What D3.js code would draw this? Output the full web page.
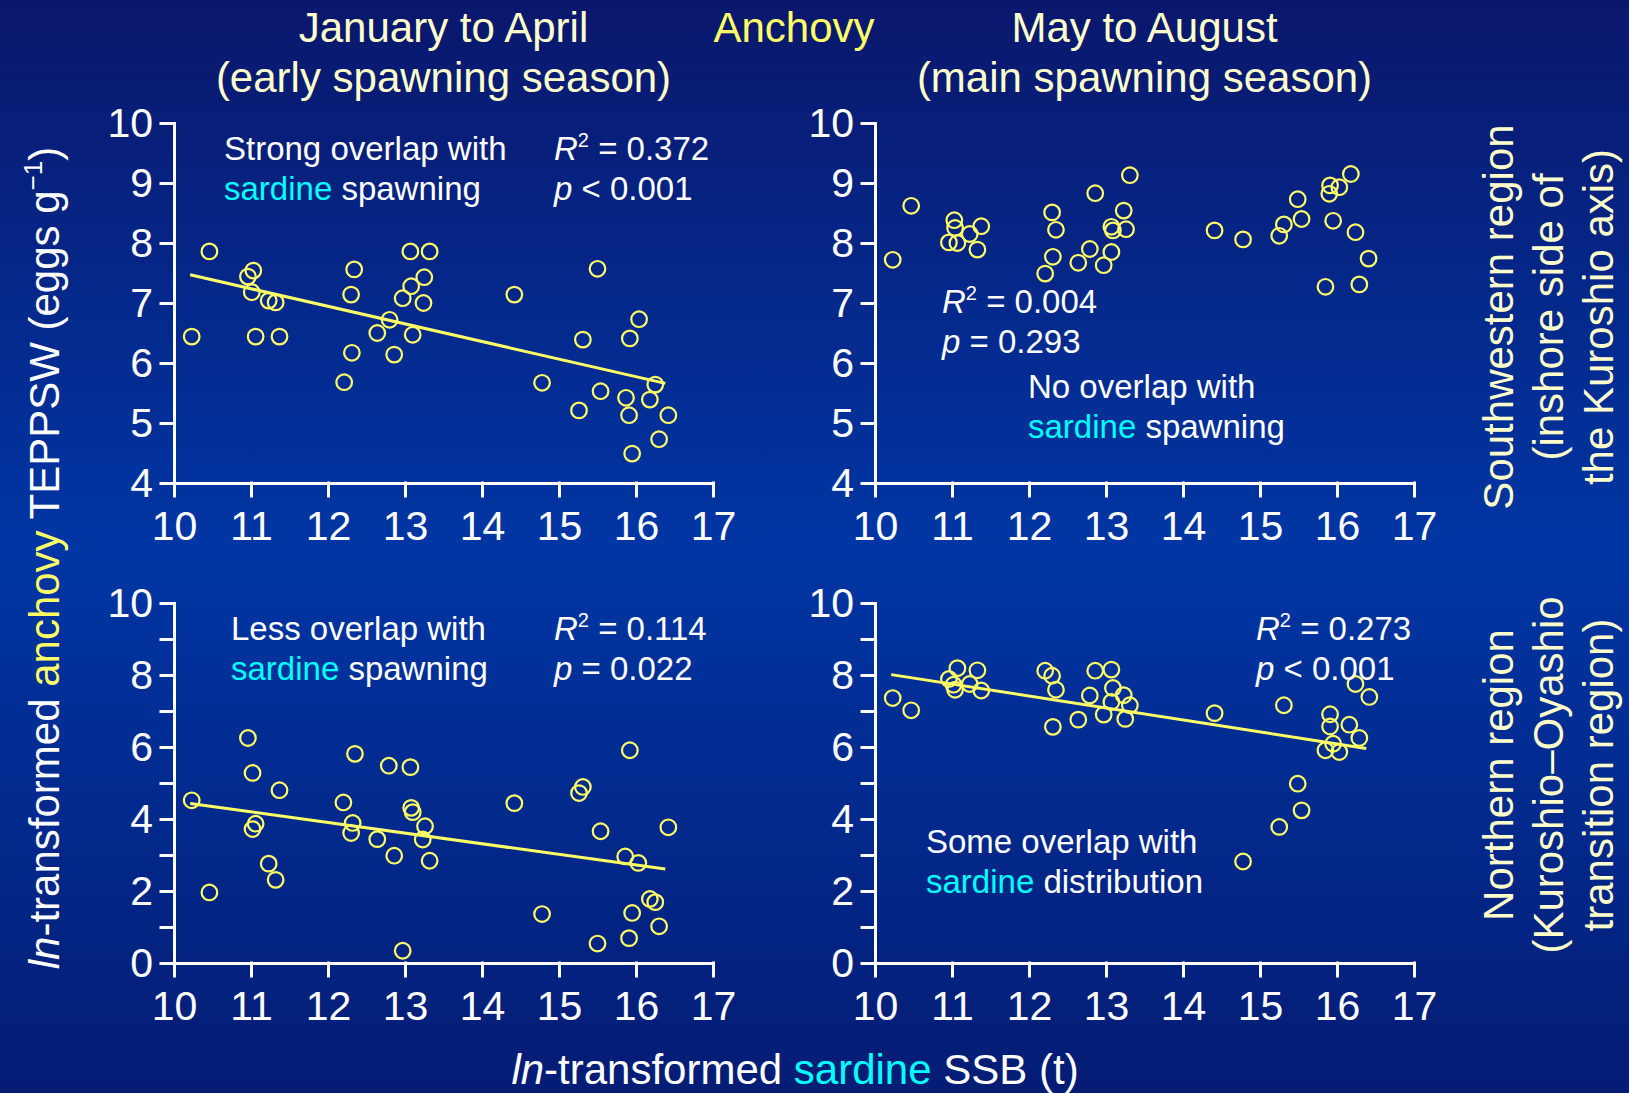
<!DOCTYPE html>
<html>
<head>
<meta charset="utf-8">
<script src="https://cdn.jsdelivr.net/npm/d3@7"></script>
<style>
  body { margin: 0; background: #002080; }
  svg { display: block; }
</style>
</head>
<body>
<div id="chart"></div>
<script>
// [ln sardine SSB, ln anchovy TEPPSW]
const janAprSouthwest = [
  [10.23,6.44],[10.46,7.86],[10.96,7.44],[11.03,7.54],[11.01,7.18],[11.06,6.44],[11.23,7.04],[11.32,7.01],
  [11.37,6.44],[12.21,5.68],[12.30,7.14],[12.34,7.56],[12.31,6.17],[12.64,6.50],[12.80,6.72],[12.86,6.14],
  [12.97,7.08],[13.07,7.86],[13.08,7.28],[13.10,6.47],[13.24,7.00],[13.25,7.43],[13.32,7.86],[14.42,7.14],
  [14.78,5.67],[15.26,5.21],[15.31,6.39],[15.50,7.57],[15.54,5.53],[15.87,5.42],[15.92,6.41],[15.91,5.13],
  [15.95,4.49],[16.04,6.73],[16.18,5.39],[16.25,5.64],[16.30,4.73],[16.42,5.13]
];
const mayAugSouthwest = [
  [10.23,7.72],[10.47,8.62],[10.96,8.01],[11.03,8.38],[11.04,8.25],[11.07,8.00],[11.23,8.15],[11.33,7.89],
  [11.38,8.28],[12.21,7.49],[12.30,8.51],[12.31,7.77],[12.35,8.22],[12.64,7.67],[12.79,7.90],[12.86,8.83],
  [12.97,7.63],[13.07,8.27],[13.09,8.21],[13.07,7.85],[13.26,8.23],[13.23,8.54],[13.31,9.13],[14.41,8.21],
  [14.78,8.06],[15.25,8.12],[15.31,8.31],[15.49,8.73],[15.54,8.40],[15.85,7.27],[15.90,8.82],[15.91,8.96],
  [15.95,8.37],[16.03,8.93],[16.18,9.15],[16.24,8.18],[16.29,7.31],[16.41,7.74]
];
const janAprNorth = [
  [10.23,4.52],[10.46,1.96],[10.96,6.25],[11.02,5.28],[11.06,3.87],[11.02,3.72],[11.23,2.76],[11.32,2.31],
  [11.37,4.80],[12.20,4.46],[12.35,5.81],[12.32,3.89],[12.30,3.61],[12.64,3.44],[12.79,5.48],[12.86,2.98],
  [12.97,0.34],[13.07,5.44],[13.08,4.31],[13.10,4.19],[13.23,3.43],[13.26,3.80],[13.32,2.84],[14.42,4.44],
  [14.78,1.36],[15.26,4.72],[15.31,4.89],[15.50,0.54],[15.54,3.66],[15.86,2.96],[15.92,5.91],[15.95,1.39],
  [15.91,0.69],[16.03,2.78],[16.18,1.78],[16.25,1.69],[16.30,1.02],[16.42,3.77]
];
const mayAugNorth = [
  [10.23,7.36],[10.47,7.02],[10.96,7.89],[11.07,8.19],[11.02,7.73],[11.04,7.59],[11.23,7.75],[11.33,8.13],
  [11.38,7.57],[12.21,8.12],[12.30,7.98],[12.35,7.59],[12.31,6.56],[12.64,6.76],[12.79,7.43],[12.86,8.12],
  [12.97,6.90],[13.07,8.15],[13.09,7.64],[13.07,7.25],[13.23,7.44],[13.31,7.16],[13.25,6.78],[14.41,6.94],
  [14.78,2.82],[15.25,3.78],[15.31,7.16],[15.49,4.98],[15.54,4.24],[15.85,5.91],[15.91,6.91],[15.91,6.57],
  [15.95,6.09],[16.03,5.86],[16.16,6.62],[16.24,7.75],[16.29,6.25],[16.42,7.39]
];

// regression lines (end points as drawn)
const fitJanAprSouthwest = [[10.21, 7.47], [16.38, 5.66]];
const fitJanAprNorth = [[10.21, 4.43], [16.38, 2.61]];
const fitMayAugNorth = [[10.21, 8.01], [16.38, 5.96]];

const xTicks = [10, 11, 12, 13, 14, 15, 16, 17];
const yTicksTop = [4, 5, 6, 7, 8, 9, 10];
const yTicksBottom = [0, 1, 2, 3, 4, 5, 6, 7, 8, 9, 10];

const statsText = [
  { r2: "0.372", p: "< 0.001" },
  { r2: "0.004", p: "= 0.293" },
  { r2: "0.114", p: "= 0.022" },
  { r2: "0.273", p: "< 0.001" }
];
const noteText = [
  ["Strong overlap with", "spawning"],
  ["No overlap with", "spawning"],
  ["Less overlap with", "spawning"],
  ["Some overlap with", "distribution"]
];

const W = 1629, H = 1093;
const FONT = "'Liberation Sans', Arial, Helvetica, sans-serif";
const YELLOW = "#ffff66", CREAM = "#ffffcc", CYAN = "#00ffff";

const svg = d3.select("#chart").append("svg")
  .attr("width", W).attr("height", H)
  .style("font-family", FONT);

const grad = svg.append("defs").append("linearGradient")
  .attr("id", "bg").attr("x1", 0).attr("y1", 0).attr("x2", 0).attr("y2", 1);
grad.append("stop").attr("offset", "0%").attr("stop-color", "#0a176c");
grad.append("stop").attr("offset", "50%").attr("stop-color", "#0036a4");
grad.append("stop").attr("offset", "100%").attr("stop-color", "#041c74");
svg.append("rect").attr("width", W).attr("height", H).attr("fill", "url(#bg)");

const panelW = 539, panelH = 360;
const panels = [
  { left: 174, top: 123, data: janAprSouthwest, fit: fitJanAprSouthwest, yDomain: [4, 10], yTicks: yTicksTop,
    stats: statsText[0], statsPos: [380, 37], note: noteText[0], notePos: [50, 37] },
  { left: 875, top: 123, data: mayAugSouthwest, fit: null, yDomain: [4, 10], yTicks: yTicksTop,
    stats: statsText[1], statsPos: [67, 190], note: noteText[1], notePos: [153, 275] },
  { left: 174, top: 603, data: janAprNorth, fit: fitJanAprNorth, yDomain: [0, 10], yTicks: yTicksBottom,
    stats: statsText[2], statsPos: [380, 37], note: noteText[2], notePos: [57, 37] },
  { left: 875, top: 603, data: mayAugNorth, fit: fitMayAugNorth, yDomain: [0, 10], yTicks: yTicksBottom,
    stats: statsText[3], statsPos: [381, 37], note: noteText[3], notePos: [51, 250] }
];

function drawPanel(p) {
  const x = d3.scaleLinear().domain([10, 17]).range([p.left, p.left + panelW]);
  const y = d3.scaleLinear().domain(p.yDomain).range([p.top + panelH, p.top]);
  const g = svg.append("g");

  const xAxis = g.append("g")
    .attr("transform", `translate(0,${p.top + panelH})`)
    .call(d3.axisBottom(x).tickValues(xTicks).tickFormat(d3.format("d"))
      .tickSize(13).tickSizeOuter(0).tickPadding(15));
  const yAxis = g.append("g")
    .attr("transform", `translate(${p.left},0)`)
    .call(d3.axisLeft(y).tickValues(p.yTicks).tickSize(13).tickSizeOuter(0).tickPadding(8)
      .tickFormat(d => (p.yDomain[0] === 0 && d % 2) ? "" : d));

  [xAxis, yAxis].forEach(a => {
    a.attr("font-family", FONT).attr("font-size", 41);
    a.selectAll(".domain, .tick line").attr("stroke", "#fff").attr("stroke-width", 3).attr("stroke-linecap", "square");
    a.selectAll("text").attr("fill", "#fff");
  });

  if (p.fit) {
    g.append("path")
      .datum(p.fit)
      .attr("fill", "none")
      .attr("stroke", YELLOW)
      .attr("stroke-width", 3)
      .attr("d", d3.line().x(d => x(d[0])).y(d => y(d[1])));
  }

  g.append("g")
    .selectAll("circle")
    .data(p.data)
    .join("circle")
    .attr("cx", d => x(d[0]))
    .attr("cy", d => y(d[1]))
    .attr("r", 7.8)
    .attr("fill", "none")
    .attr("stroke", YELLOW)
    .attr("stroke-width", 2.2);

  // R2 and p
  const sx = p.left + p.statsPos[0], sy = p.top + p.statsPos[1];
  const t1 = g.append("text").attr("x", sx).attr("y", sy).attr("fill", "#fff").attr("font-size", 33);
  t1.append("tspan").attr("font-style", "italic").text("R");
  t1.append("tspan").attr("font-size", 20).attr("dy", -13).text("2");
  t1.append("tspan").attr("dy", 13).text(" = " + p.stats.r2);
  const t2 = g.append("text").attr("x", sx).attr("y", sy + 40).attr("fill", "#fff").attr("font-size", 33);
  t2.append("tspan").attr("font-style", "italic").text("p");
  t2.append("tspan").text(" " + p.stats.p);

  // overlap note
  const nx = p.left + p.notePos[0], ny = p.top + p.notePos[1];
  g.append("text").attr("x", nx).attr("y", ny).attr("fill", "#fff").attr("font-size", 33).text(p.note[0]);
  const n2 = g.append("text").attr("x", nx).attr("y", ny + 40).attr("fill", "#fff").attr("font-size", 33);
  n2.append("tspan").attr("fill", CYAN).text("sardine");
  n2.append("tspan").text(" " + p.note[1]);
}

panels.forEach(drawPanel);

// column titles
const titles = svg.append("g").attr("font-size", 42).attr("text-anchor", "middle");
[["January to April", "(early spawning season)", 174 + panelW / 2],
 ["May to August", "(main spawning season)", 875 + panelW / 2]].forEach(([a, b, cx]) => {
  titles.append("text").attr("x", cx).attr("y", 42).attr("fill", CREAM).text(a);
  titles.append("text").attr("x", cx).attr("y", 92).attr("fill", CREAM).text(b);
});
titles.append("text").attr("x", 794).attr("y", 42).attr("fill", YELLOW).text("Anchovy");

// row titles (rotated)
const rows = svg.append("g").attr("font-size", 42).attr("text-anchor", "middle").attr("fill", CREAM);
[[["Southwestern region", "(inshore side of", "the Kuroshio axis)"], 317],
 [["Northern region", "(Kuroshio\u2013Oyashio", "transition region)"], 775]].forEach(([lines, cy]) => {
  lines.forEach((s, i) => {
    rows.append("text")
      .attr("transform", `translate(${1513 + i * 50},${cy}) rotate(-90)`)
      .text(s);
  });
});

// y axis title
const yt = svg.append("text")
  .attr("transform", "translate(59,558) rotate(-90)")
  .attr("text-anchor", "middle")
  .attr("font-size", 42)
  .attr("fill", "#fff");
yt.append("tspan").attr("font-style", "italic").text("ln");
yt.append("tspan").text("-transformed ");
yt.append("tspan").attr("fill", YELLOW).text("anchovy");
yt.append("tspan").text(" TEPPSW (eggs g");
yt.append("tspan").attr("font-size", 26).attr("dy", -17).text("\u22121");
yt.append("tspan").attr("dy", 17).text(")");

// x axis title
const xt = svg.append("text")
  .attr("x", 795).attr("y", 1084)
  .attr("text-anchor", "middle")
  .attr("font-size", 42)
  .attr("fill", "#fff");
xt.append("tspan").attr("font-style", "italic").text("ln");
xt.append("tspan").text("-transformed ");
xt.append("tspan").attr("fill", CYAN).text("sardine");
xt.append("tspan").text(" SSB (t)");
</script>
</body>
</html>
